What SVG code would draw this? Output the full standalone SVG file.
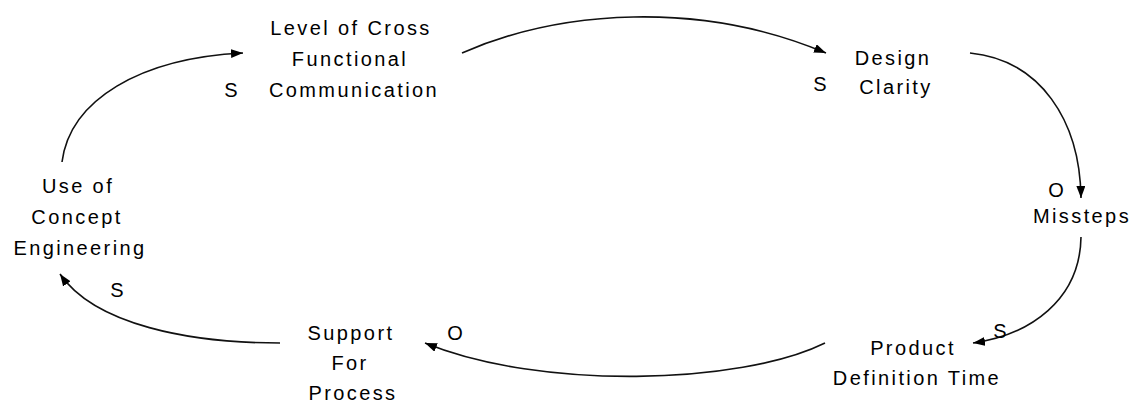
<svg xmlns="http://www.w3.org/2000/svg" width="1141" height="405" viewBox="0 0 1141 405">
<style>
.t{font-family:"Liberation Sans",Arial,sans-serif;font-size:20px;letter-spacing:2.4px;fill:#000;text-anchor:middle}
.l{font-family:"Liberation Sans",Arial,sans-serif;font-size:20px;fill:#000;text-anchor:middle}
.c{fill:none;stroke:#111;stroke-width:1.6;marker-end:url(#ah)}
</style>
<defs>
<marker id="ah" markerUnits="userSpaceOnUse" markerWidth="13" markerHeight="10" refX="12" refY="4.5" orient="auto">
<path d="M0,0 L12,4.5 L0,9 z" fill="#000"/>
</marker>
</defs>
<rect width="1141" height="405" fill="#fff"/>
<g id="connectors">
<path class="c" d="M62,162 C70,100 140,58 243,53"/>
<path class="c" d="M462,53 C560,10 700,0 826,53"/>
<path class="c" d="M970,53 C1040,60 1080,120 1081,198"/>
<path class="c" d="M1081,237 C1080,300 1030,335 973,343"/>
<path class="c" d="M825,343 C740,385 540,390 425,343"/>
<path class="c" d="M280,343 C190,343 95,325 60,274"/>
</g>
<g id="polarity">
<text class="l" x="231" y="97">S</text>
<text class="l" x="820" y="91">S</text>
<text class="l" x="1056" y="197">O</text>
<text class="l" x="1000" y="338">S</text>
<text class="l" x="455" y="340">O</text>
<text class="l" x="117" y="297">S</text>
</g>
<g id="node-communication">
<text class="t" x="351" y="35">Level of Cross</text>
<text class="t" x="350" y="66">Functional</text>
<text class="t" x="354" y="97">Communication</text>
</g>
<g id="node-design">
<text class="t" x="893" y="65">Design</text>
<text class="t" x="896" y="94">Clarity</text>
</g>
<g id="node-missteps">
<text class="t" x="1082" y="223">Missteps</text>
</g>
<g id="node-product">
<text class="t" x="913" y="355">Product</text>
<text class="t" x="917" y="385">Definition Time</text>
</g>
<g id="node-support">
<text class="t" x="351" y="340">Support</text>
<text class="t" x="350" y="370">For</text>
<text class="t" x="353" y="400">Process</text>
</g>
<g id="node-concept">
<text class="t" x="78" y="193">Use of</text>
<text class="t" x="77" y="224">Concept</text>
<text class="t" x="80" y="255">Engineering</text>
</g>
</svg>
